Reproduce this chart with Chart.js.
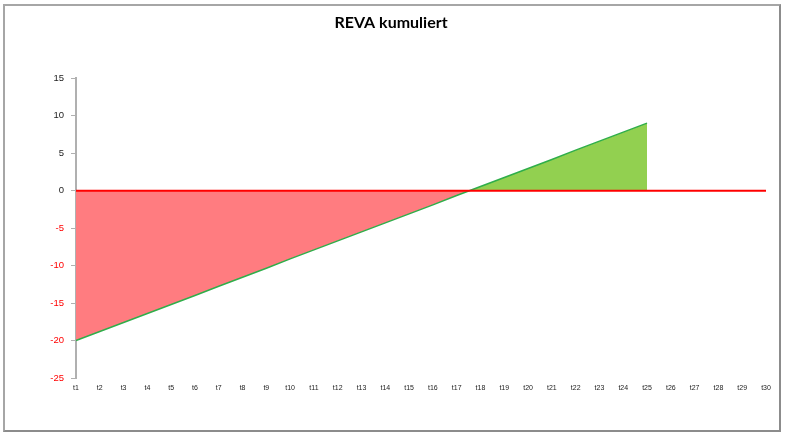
<!DOCTYPE html>
<html>
<head>
<meta charset="utf-8">
<script src="https://cdn.jsdelivr.net/npm/chart.js@4"></script>
<style>
    body { margin: 0; background: #fff; }
    #wrap { position: relative; width: 786px; height: 437px; }
    #frame { position: absolute; left: 3px; top: 4px; width: 774px; height: 424px; border: 2px solid #8c8c8c; border-top-color: #a6a6a6; border-left-color: #a6a6a6; }
    canvas { position: absolute; left: 0; top: 0; }
</style>
</head>
<body>
<div id="wrap">
    <div id="frame"></div>
    <canvas id="revaChart" width="786" height="437"></canvas>
</div>
<script>
// Chart data
const periods = ['t1','t2','t3','t4','t5','t6','t7','t8','t9','t10','t11','t12','t13','t14','t15',
                 't16','t17','t18','t19','t20','t21','t22','t23','t24','t25','t26','t27','t28','t29','t30'];
const revaCumulative = [-20, -18.8, -17.6, -16.4, -15.2, -14.0, -12.75, -11.55, -10.35, -9.1, -7.9, -6.7, -5.5,
                        -4.3, -3.1, -1.9, -0.65, 0.55, 1.75, 2.95, 4.15, 5.4, 6.6, 7.8, 9,
                        null, null, null, null, null];
const zeroLine = [0, 0, 0, 0, 0, 0, 0, 0, 0, 0, 0, 0, 0, 0, 0, 0, 0, 0, 0, 0, 0, 0, 0, 0, 0, 0, 0, 0, 0, 0];
const yTicks = [15, 10, 5, 0, -5, -10, -15, -20, -25];

const ctx = document.getElementById('revaChart').getContext('2d');
new Chart(ctx, {
    type: 'line',
    data: {
        labels: periods,
        datasets: [{
            label: 'REVA kumuliert',
            data: revaCumulative,
            borderColor: '#2fae4a',
            borderWidth: 1.5,
            pointRadius: 0,
            tension: 0,
            fill: {
                target: { value: 0 },
                above: '#92d050',
                below: '#ff7c80'
            },
            order: 2
        }, {
            label: 'Null',
            data: zeroLine,
            borderColor: '#ff0000',
            borderWidth: 2,
            pointRadius: 0,
            fill: false,
            order: 1
        }]
    },
    options: {
        responsive: false,
        animation: false,
        layout: {
            padding: { left: 16, right: 20, top: 4, bottom: 0 }
        },
        plugins: {
            legend: { display: false },
            tooltip: { enabled: false },
            title: {
                display: true,
                text: 'REVA kumuliert',
                color: '#000',
                font: { family: 'Lato', size: 16, weight: 'bold' },
                padding: { top: 9, bottom: 46 }
            }
        },
        scales: {
            x: {
                offset: false,
                grid: { display: false },
                border: { display: false },
                ticks: {
                    color: '#222',
                    font: { family: 'Liberation Sans', size: 7 },
                    maxRotation: 0,
                    autoSkip: false,
                    padding: -2
                },
                afterFit: function(scale) {
                    scale.height = 59;
                }
            },
            y: {
                min: -25,
                max: 15,
                afterBuildTicks: function(scale) {
                    scale.ticks = yTicks.map(v => ({ value: v }));
                },
                grid: {
                    drawOnChartArea: false,
                    drawTicks: true,
                    tickLength: 5,
                    color: '#b0b0b0'
                },
                border: { display: true, color: '#b0b0b0', width: 2 },
                ticks: {
                    font: { family: 'Liberation Sans', size: 9.5 },
                    padding: 7,
                    color: function(context) {
                        return context.tick && context.tick.value < 0 ? '#ff0000' : '#222';
                    }
                },
                afterFit: function(scale) {
                    scale.width = 60;
                }
            }
        }
    }
});
</script>
</body>
</html>
